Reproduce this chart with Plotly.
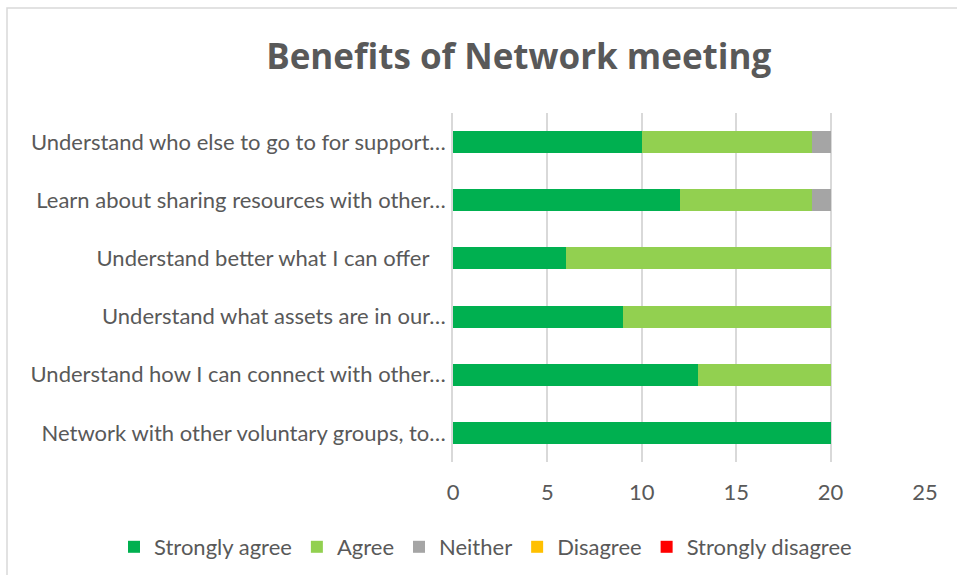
import plotly.graph_objects as go

categories = [
    "Network with other voluntary groups, to…",
    "Understand how I can connect with other…",
    "Understand what assets are in our…",
    "Understand better what I can offer\u00a0\u00a0\u00a0",
    "Learn about sharing resources with other…",
    "Understand who else to go to for support…",
]
series_names = ["Strongly agree", "Agree", "Neither", "Disagree", "Strongly disagree"]
strongly_agree = [20, 13, 9, 6, 12, 10]
agree = [0, 7, 11, 14, 7, 9]
neither = [0, 0, 0, 0, 1, 1]
disagree = [0, 0, 0, 0, 0, 0]
strongly_disagree = [0, 0, 0, 0, 0, 0]
colors = ["#00B050", "#92D050", "#A5A5A5", "#FFC000", "#FF0000"]
x_ticks = [0, 5, 10, 15, 20, 25]

values = [strongly_agree, agree, neither, disagree, strongly_disagree]

fig = go.Figure()
for name, vals, col in zip(series_names, values, colors):
    fig.add_trace(go.Bar(
        y=categories, x=vals, name=name, orientation="h",
        marker=dict(color=col, line=dict(width=0)),
    ))

font_main = "Lato, 'Open Sans', sans-serif"
fig.update_layout(
    barmode="stack",
    bargap=0.62,
    width=957, height=575,
    margin=dict(l=453, r=32, t=113, b=113, autoexpand=False),
    paper_bgcolor="white", plot_bgcolor="white",
    font=dict(family=font_main, color="#595959", size=22),
    title=dict(text="<b>Benefits of Network meeting</b>",
               font=dict(family="'Open Sans', sans-serif", size=35, color="#595959"),
               x=0.542, xanchor="center", y=0.901, yanchor="middle"),
    xaxis=dict(range=[0, 25], tickvals=x_ticks, showgrid=True, gridcolor="#d9d9d9",
               gridwidth=1.5, zeroline=False, showline=False, ticks="",
               automargin=False,
               ticklabelstandoff=15, tickfont=dict(size=22, color="#595959")),
    yaxis=dict(showline=True, linecolor="#d9d9d9", linewidth=1.5, ticks="",
               automargin=False,
               ticklabelstandoff=1, tickfont=dict(size=22, color="#595959")),
    legend=dict(orientation="h", xref="paper", yref="paper",
                x=(114 - 453) / 472, xanchor="left", y=(462 - 547) / 349, yanchor="middle",
                traceorder="normal", font=dict(size=22, color="#595959"),
                itemwidth=30, bgcolor="rgba(0,0,0,0)"),
    showlegend=True,
    shapes=[dict(type="rect", xref="paper", yref="paper",
                 x0=(7 - 453) / 472, x1=(962 - 453) / 472,
                 y0=(462 - 580) / 349, y1=(462 - 8) / 349,
                 line=dict(color="#d9d9d9", width=1.5), fillcolor="rgba(0,0,0,0)",
                 layer="below")],
)

fig.write_html("out.html")
